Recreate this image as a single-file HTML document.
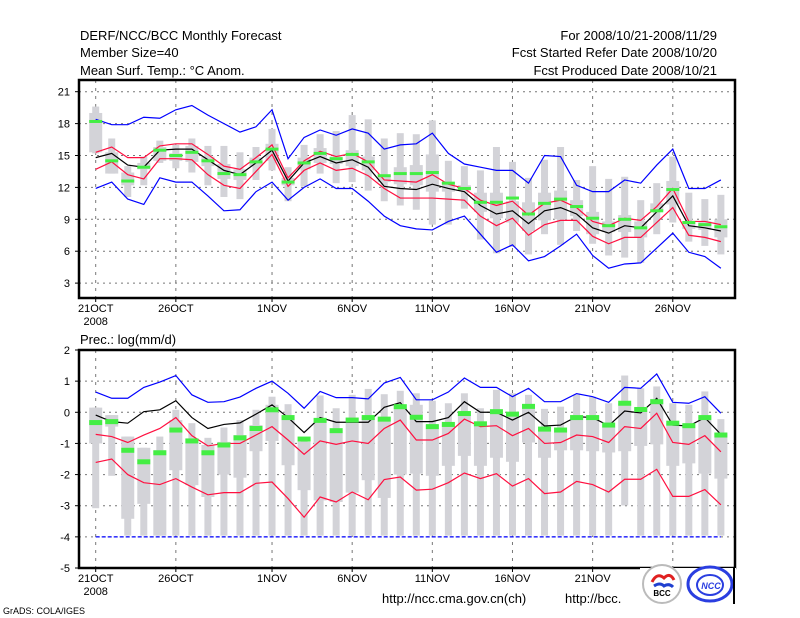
<!DOCTYPE html>
<html><head><meta charset="utf-8"><style>
body{margin:0;background:#fff;width:800px;height:618px;overflow:hidden}
svg{display:block;font-family:"Liberation Sans",sans-serif}
</style></head><body>
<svg id="c" width="800" height="618"></svg>
<script>
const days=["21OCT","26OCT","1NOV","6NOV","11NOV","16NOV","21NOV","26NOV"];
const dayIdx=[0,5,11,16,21,26,31,36];
// Temperature panel
const tBlue1=[18.4,17.9,17.9,18.6,18.5,19.3,19.7,18.8,18.0,17.2,17.7,19.3,14.7,16.7,17.4,16.9,17.5,17.1,15.6,16.0,16.1,17.1,15.2,14.2,13.9,13.6,13.6,12.4,15.0,14.9,12.2,11.6,11.6,12.7,12.4,14.1,15.6,11.9,11.9,12.7];
const tBlue2=[11.9,12.5,10.9,10.4,12.9,12.5,12.5,11.2,9.8,9.9,11.6,12.5,10.8,12.0,12.8,11.9,11.9,10.7,9.3,8.4,8.1,8.0,8.8,9.3,7.6,5.9,6.6,5.1,5.5,6.5,7.6,5.6,4.4,4.8,4.9,6.3,7.7,5.9,5.5,4.4];
const tRed1=[15.3,15.8,14.8,14.8,15.9,16.1,16.1,15.1,14.0,13.7,14.8,16.0,12.9,14.5,15.4,14.9,15.2,14.4,12.7,12.6,12.5,13.2,12.3,11.9,10.8,10.3,10.7,9.4,10.5,10.8,10.1,8.8,8.4,9.1,8.9,10.2,11.9,8.8,8.8,8.5];
const tRed2=[13.7,14.4,13.2,12.8,14.7,14.7,14.6,13.2,12.2,11.9,13.5,15.1,12.1,13.6,14.3,13.6,13.8,13.1,11.9,11.0,11.0,11.0,10.9,10.8,9.3,8.4,9.1,7.5,8.5,8.9,8.9,7.4,6.7,7.3,7.3,8.7,10.1,7.5,7.3,6.9];
const tMean=[14.8,15.2,14.1,13.9,15.5,15.6,15.6,14.6,13.6,13.2,14.3,15.5,12.6,14.3,14.9,14.3,14.6,13.9,12.1,11.9,11.8,12.3,11.9,11.6,10.3,9.5,9.8,8.6,9.8,10.1,9.5,8.2,7.7,8.4,8.2,9.7,11.2,8.4,8.2,7.9];
const tGreen=[18.2,14.5,12.6,13.9,15.5,15.0,15.3,14.5,13.3,13.2,14.4,15.6,12.5,14.3,15.2,14.7,15.1,14.4,13.1,13.3,13.3,13.4,12.4,11.9,10.6,10.6,11.0,9.5,10.5,10.9,10.2,9.1,8.4,9.0,8.2,9.8,11.8,8.7,8.5,8.3];
const tWTop=[19.6,16.6,14.0,14.9,16.4,16.0,16.6,15.9,15.9,15.3,15.8,17.5,13.9,16.0,17.0,17.3,18.8,18.4,16.6,17.1,17.0,18.3,14.5,14.0,13.6,15.8,14.4,12.9,14.6,15.8,12.7,14.0,12.8,13.0,10.8,12.4,14.9,11.5,10.9,11.3];
const tWBot=[15.2,13.3,11.1,12.2,14.3,13.8,13.4,12.2,11.1,10.9,12.7,13.6,10.7,12.1,13.3,12.4,12.5,11.7,10.7,10.3,9.9,8.5,8.5,10.0,7.1,5.8,6.4,5.7,7.6,6.6,7.9,6.7,5.6,5.4,4.9,7.6,8.7,6.9,6.5,5.7];
const tBTop=[19.0,15.3,13.4,14.3,15.8,15.2,15.9,14.9,14.2,13.7,14.8,16.1,12.9,14.8,15.7,14.9,15.5,14.9,13.2,13.9,14.1,15.1,12.5,12.2,11.5,11.5,10.7,10.6,11.5,11.7,10.8,9.7,8.8,9.4,8.8,10.5,12.6,8.8,8.8,9.0];
const tBBot=[15.3,13.3,12.2,13.7,14.5,14.5,14.4,14.0,12.8,12.7,14.0,14.5,12.2,13.7,14.3,14.2,14.0,13.6,12.5,12.3,12.2,11.6,11.6,11.7,9.7,9.1,8.7,7.9,8.9,9.0,9.3,7.6,7.8,7.8,7.3,9.8,10.4,8.1,8.0,7.3];
const tTicks=[3,6,9,12,15,18,21];
// Precipitation panel
const pBlue1=[0.65,0.45,0.45,0.8,0.97,1.18,0.56,0.32,0.34,0.49,0.77,1.0,0.61,0.13,0.67,0.47,0.47,0.43,0.94,1.12,0.4,0.4,0.65,1.1,0.8,0.8,0.5,0.77,0.34,0.34,0.6,0.5,0.32,0.8,0.77,1.23,0.32,0.29,0.5,-0.03];
const pBlue2=[-4,-4,-4,-4,-4,-4,-4,-4,-4,-4,-4,-4,-4,-4,-4,-4,-4,-4,-4,-4,-4,-4,-4,-4,-4,-4,-4,-4,-4,-4,-4,-4,-4,-4,-4,-4,-4,-4,-4,-4];
const pRed1=[-0.71,-0.78,-0.97,-0.73,-0.52,-0.17,-0.75,-1.08,-1.0,-1.0,-0.73,-0.46,-0.89,-1.35,-0.92,-1.03,-0.92,-1.0,-0.52,-0.25,-0.89,-0.89,-0.68,-0.22,-0.46,-0.43,-0.75,-0.52,-1.0,-0.97,-0.73,-0.78,-0.97,-0.46,-0.52,-0.03,-0.97,-1.03,-0.75,-1.27];
const pRed2=[-1.61,-1.5,-2.0,-2.26,-2.32,-2.13,-2.4,-2.65,-2.58,-2.58,-2.28,-2.24,-2.77,-3.37,-2.72,-2.88,-2.56,-2.81,-2.16,-2.08,-2.5,-2.47,-2.26,-1.95,-2.13,-1.97,-2.37,-2.13,-2.61,-2.56,-2.22,-2.32,-2.56,-2.15,-2.15,-1.83,-2.7,-2.7,-2.48,-2.97];
const pMean=[-0.09,-0.3,-0.35,0.02,0.08,0.37,-0.17,-0.52,-0.39,-0.34,-0.06,0.24,-0.17,-0.65,-0.17,-0.32,-0.32,-0.32,0.16,0.31,-0.3,-0.3,-0.17,0.34,0,0,-0.25,0,-0.44,-0.41,-0.14,-0.17,-0.43,0.04,-0.02,0.45,-0.41,-0.44,-0.17,-0.71];
const pGreen=[-0.33,-0.3,-1.22,-1.59,-1.3,-0.57,-0.92,-1.3,-1.05,-0.82,-0.52,0.08,-0.17,-0.86,-0.26,-0.59,-0.25,-0.17,-0.22,0.18,-0.16,-0.46,-0.39,-0.04,-0.37,0.02,-0.06,0.19,-0.54,-0.57,-0.17,-0.17,-0.41,0.29,0.09,0.34,-0.35,-0.43,-0.17,-0.73];
const pWTop=[0.15,-0.09,-0.78,-1.14,-0.78,0.08,-0.35,-0.82,-0.49,-0.25,0.08,0.5,0.26,-0.84,0.54,0.13,0.56,0.75,0.58,0.69,0.61,0.37,0.29,0.61,0.13,0.72,0.61,0.56,0.11,0.18,0.56,0.5,0.29,1.18,0.77,0.83,0.29,0.24,0.67,-0.22];
const pWBot=[-3.08,-2.04,-3.96,-3.96,-3.96,-3.96,-3.96,-3.96,-3.96,-3.96,-3.96,-3.96,-3.96,-3.96,-3.96,-3.96,-3.96,-3.96,-3.96,-3.96,-3.96,-3.96,-3.96,-3.96,-3.96,-3.96,-3.96,-3.96,-3.96,-3.96,-3.96,-3.96,-3.96,-2.99,-3.96,-3.96,-3.96,-3.96,-3.96,-3.96];
const pBTop=[0.15,-0.09,-0.78,-1.14,-1.22,-0.25,-0.84,-1.05,-0.95,-0.73,-0.41,0.24,-0.14,-0.95,-0.19,-0.57,-0.17,-0.14,-0.25,0.24,0.24,-0.41,-0.35,0.02,-0.3,0.02,-0.09,0.24,-0.57,-0.57,-0.09,-0.09,-0.46,0.29,0.13,0.43,-0.35,-0.41,-0.14,-0.68];
const pBBot=[-1.0,-0.46,-3.42,-2.94,-3.96,-1.86,-2.34,-2.72,-2.0,-2.1,-1.25,-0.92,-1.7,-2.5,-2.83,-2.88,-2.58,-2.18,-2.75,-2.0,-1.97,-2.04,-1.72,-1.4,-1.72,-1.46,-1.59,-0.97,-1.46,-1.22,-1.22,-1.25,-1.29,-1.25,-1.08,-1.03,-1.72,-1.64,-1.97,-2.13];
const pTicks=[-5,-4,-3,-2,-1,0,1,2];

const NS='http://www.w3.org/2000/svg';
const svg=document.getElementById('c');
function el(tag,attrs,parent){const e=document.createElementNS(NS,tag);for(const k in attrs)e.setAttribute(k,attrs[k]);(parent||svg).appendChild(e);return e;}
function txt(s,x,y,size,anchor,parent){const t=el('text',{x:x,y:y,'font-size':size,'text-anchor':anchor||'start',fill:'#000'},parent);t.textContent=s;return t;}
const X0=95.7,DX=16.03,L=79,R=735;
const xs=i=>X0+i*DX;

function panel(name,top,bot,vmin,vmax,ticks,d){
  const g=el('g',{});
  
  
  const y=v=>bot-(v-vmin)/(vmax-vmin)*(bot-top);
  // grid
  ticks.forEach(t=>{
    if(t>vmin&&t<vmax){const gl=el('line',{x1:L,x2:R,y1:y(t),y2:y(t),stroke:'#777','stroke-dasharray':'2,4','stroke-width':1},g);
    }
    const tl=txt(String(t),70,y(t)+4,11,'end',g);
    
    el('line',{x1:L-4,x2:L,y1:y(t),y2:y(t),stroke:'#000'},g);
  });
  dayIdx.forEach((di,k)=>{
    const gl=el('line',{x1:xs(di),x2:xs(di),y1:top,y2:bot,stroke:'#777','stroke-dasharray':'3,5','stroke-width':1},g);
    
    el('line',{x1:xs(di),x2:xs(di),y1:bot,y2:bot+4,stroke:'#000'},g);
    const tl=txt(days[k],xs(di),bot+14,11,'middle',g);
    
  });
  const yr=txt('2008',xs(0),bot+27,11,'middle',g);
  
  // boxes
  for(let i=0;i<40;i++){
    const w=el('rect',{x:xs(i)-3.5,width:7,y:y(d.wt[i]),height:y(d.wb[i])-y(d.wt[i]),fill:'#d3d3d8'},g);
    
    const b=el('rect',{x:xs(i)-6.5,width:13,y:y(d.bt[i]),height:Math.max(1,y(d.bb[i])-y(d.bt[i])),fill:'#d3d3d8'},g);
    
  }
  const line=(arr,col,nm,dash)=>{const p=el('polyline',{points:arr.map((v,i)=>xs(i)+','+y(v)).join(' '),fill:'none',stroke:col,'stroke-width':1.2},g);
    if(dash)p.setAttribute('stroke-dasharray',dash);
    };
  line(d.b1,'#0000ff','max-line');
  line(d.b2,'#0000ff','min-line',d.dash);
  line(d.r1,'#ff1040','upper-line');
  line(d.r2,'#ff1040','lower-line');
  line(d.m,'#000','mean-line');
  for(let i=0;i<40;i++){
    const gr=el('rect',{x:xs(i)-6.5,width:13,y:y(d.g[i])-d.gh/2,height:d.gh,fill:'#44ee44'},g);
    
  }
  const fr=el('rect',{x:L,y:top,width:R-L,height:bot-top,fill:'none',stroke:'#000','stroke-width':2.5},g);
  
  return y;
}
panel('temperature-panel',80,298,1.6,22.1,tTicks,{wt:tWTop,wb:tWBot,bt:tBTop,bb:tBBot,b1:tBlue1,b2:tBlue2,r1:tRed1,r2:tRed2,m:tMean,g:tGreen,gh:3});
panel('precip-panel',350,568,-5,2,pTicks,{wt:pWTop,wb:pWBot,bt:pBTop,bb:pBBot,b1:pBlue1,b2:pBlue2,r1:pRed1,r2:pRed2,m:pMean,g:pGreen,gh:5,dash:'4,2'});

const texts=[
 ['DERF/NCC/BCC Monthly Forecast',80,40,13,'start','title'],
 ['Member Size=40',80,57,13,'start','member-size'],
 ['Mean Surf. Temp.: °C Anom.',80,75,13,'start','temp-subtitle'],
 ['For 2008/10/21-2008/11/29',717,40,13,'end','forecast-period'],
 ['Fcst Started Refer Date 2008/10/20',717,57,13,'end','start-date'],
 ['Fcst Produced Date 2008/10/21',717,75,13,'end','produced-date'],
 ['Prec.: log(mm/d)',80,344,13,'start','prec-subtitle'],
 ['http://ncc.cma.gov.cn(ch)',382,603,13,'start','ncc-url'],
 ['http://bcc.',565,603,13,'start','bcc-url'],
 ['GrADS: COLA/IGES',3,614,9,'start','grads-credit']];
texts.forEach(t=>{const e=txt(t[0],t[1],t[2],t[3],t[4]);});

// logos
const bg=el('rect',{x:640,y:568,width:96,height:40,fill:'#fff'});

const l1=el('circle',{cx:662,cy:584,r:19,fill:'#fff',stroke:'#bbb','stroke-width':2});

el('path',{d:'M652 582 q5 -10 12 -4 q6 -6 10 2',fill:'none',stroke:'#e02020','stroke-width':3});
el('path',{d:'M654 586 q6 -4 10 0 q5 -3 9 1',fill:'none',stroke:'#2040d0','stroke-width':3});
const bt=txt('BCC',662,596,8,'middle');bt.setAttribute('font-weight','bold');
const l2=el('ellipse',{cx:710,cy:584,rx:22,ry:17,fill:'#fff',stroke:'#2a3ee0','stroke-width':3});

el('ellipse',{cx:710,cy:585,rx:13,ry:10,fill:'none',stroke:'#2a3ee0','stroke-width':2});
const nt=txt('NCC',711,589,9,'middle');nt.setAttribute('fill','#2a3ee0');nt.setAttribute('font-weight','bold');nt.setAttribute('font-style','italic');
el('line',{x1:734,x2:734,y1:568,y2:604,stroke:'#000','stroke-width':2});
</script>
</body></html>
